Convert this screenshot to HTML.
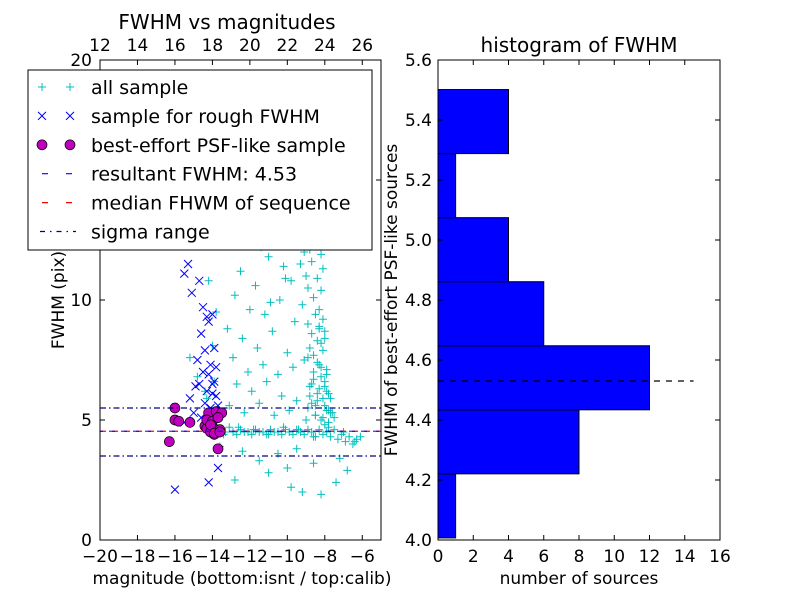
<!DOCTYPE html>
<html><head><meta charset="utf-8"><style>
body{margin:0;background:#fff;}
svg text{font-family:"DejaVu Sans","Liberation Sans",sans-serif;fill:#000;}
</style></head><body>
<svg id="fig" width="800" height="600" xmlns="http://www.w3.org/2000/svg">
<rect width="800" height="600" fill="#fff"/>
<g id="left"></g>
<g id="right"></g>
</svg>
<script>
// ---- data ----
const allSampleMag = [-13.5,-13.3,-13.1,-12.9,-12.7,-12.5,-12.3,-12.1,-11.9,-11.7,-11.5,-11.3,-11.1,-10.9,-10.7,-10.5,-10.3,-10.1,-9.9,-9.7,-9.5,-9.3,-9.1,-8.9,-8.7,-8.5,-8.3,-8.1,-7.9,-7.7,-7.5,-7.3,-7.1,-6.9,-6.7,-6.5,-6.3,-6.1,-13.4,-12.6,-11.8,-11.0,-10.2,-9.4,-8.6,-7.8,-7.0,-6.4,
-9.0,-8.9,-8.8,-8.7,-8.6,-8.5,-8.4,-8.3,-8.2,-8.1,-8.0,-7.9,-9.1,-8.8,-8.6,-8.4,-8.2,-8.0,-7.8,-8.9,-8.7,-8.5,-8.3,-8.1,-7.9,-7.7,-9.2,-8.9,-8.6,-8.3,-8.0,-7.6,-9.0,-8.7,-8.4,-8.1,-7.8,-8.8,-8.5,-8.2,-7.9,-9.3,-8.6,-8.3,-8.0,-8.8,-8.4,-8.1,-9.0,-8.6,-8.2,-8.7,-8.3,-9.1,-8.5,-8.0,-8.8,-8.4,
-13.0,-12.6,-12.2,-11.8,-11.4,-11.0,-10.6,-10.2,-9.8,-9.4,-12.8,-12.0,-11.2,-10.4,-9.6,-13.2,-12.4,-11.6,-10.8,-10.0,-12.9,-12.1,-11.3,-10.5,-9.7,-12.7,-11.9,-11.1,-10.3,-9.5,-13.1,-12.3,-11.5,-10.7,-9.9,-12.5,-11.7,-10.9,-10.1,-9.3,
-14.6,-14.2,-13.8,-14.4,-14.0,-15.2,-14.8,-14.3,-13.9,
-11.5,-10.5,-9.5,-12.8,-11.0,-9.8,-8.2,-7.4,-6.8,-12.4,-10.0,-8.6,-7.2,-13.6,-9.2,
-8.5,-8.2,-7.9,-8.7,-8.4,-8.1,-7.7,-8.6,-8.3,-8.0,-7.5,-8.9,-8.2,-7.8,-8.5,-8.0];
const allSampleFwhm = [4.6,4.5,4.7,4.5,4.4,4.6,4.5,4.5,4.4,4.6,4.5,4.5,4.4,4.6,4.5,4.5,4.4,4.6,4.5,4.4,4.6,4.5,4.4,4.6,4.5,4.3,4.6,4.4,4.5,4.3,4.6,4.2,4.4,4.1,4.3,4.0,4.2,4.3,4.4,4.7,4.6,4.4,4.7,4.6,4.3,4.7,4.5,4.1,
5.0,5.5,6.0,6.5,7.0,5.2,5.8,6.3,6.8,5.1,5.6,6.2,7.5,8.0,7.7,8.3,7.2,6.6,5.4,9.0,8.6,9.4,8.8,7.9,6.9,5.9,9.8,10.5,10.1,9.6,8.4,5.3,11.0,11.6,10.9,11.3,6.1,12.1,12.5,11.9,7.1,12.8,13.4,13.0,12.3,13.8,14.2,9.2,14.6,14.9,10.4,13.6,8.9,12.0,15.0,8.7,6.4,7.4,
14.0,13.2,12.6,13.7,12.2,11.8,12.9,11.4,10.8,13.5,10.2,9.6,9.4,10.0,9.1,8.8,8.4,8.0,8.7,7.8,7.6,7.0,7.3,6.9,7.2,6.5,6.2,6.6,6.0,5.8,5.6,5.3,5.7,5.2,5.4,11.2,10.6,9.9,10.9,11.5,
12.8,10.8,9.5,6.2,8.1,7.6,6.8,5.9,6.6,
3.3,3.6,3.8,2.5,2.8,2.2,1.9,2.4,2.9,3.7,3.0,3.2,3.4,3.9,2.0,
5.2,5.0,5.4,5.7,6.1,5.9,5.3,6.7,7.3,6.4,5.1,7.6,8.2,4.9,5.6,4.8];
const roughMag = [-16.0,-15.3,-15.5,-15.1,-14.7,-14.5,-14.3,-14.6,-14.2,-14.0,-13.9,-14.4,-14.8,-14.1,-13.8,-14.5,-14.2,-13.9,-15.2,-14.7,-14.3,-14.0,-13.8,-15.5,-14.9,-14.4,-14.1,-13.7,-14.2,-13.7,-15.0,-14.6,-14.3,-14.0];
const roughFwhm = [2.1,11.5,11.1,10.3,10.8,9.7,9.3,8.6,9.1,9.4,8.0,7.9,7.5,7.3,7.2,7.0,6.9,6.6,5.9,6.5,6.2,6.5,6.0,4.9,6.4,5.7,5.5,5.6,2.4,3.0,5.3,5.1,4.9,6.1];
const psfMag = [-16.3,-16.0,-16.0,-15.8,-15.2,-14.2,-14.0,-13.7,-14.4,-14.3,-14.0,-13.8,-14.1,-13.9,-13.6,-14.2,-13.8,-13.5,-14.3,-14.0,-13.7,-14.1,-13.9,-13.6,-13.7];
const psfFwhm = [4.1,5.5,5.0,4.95,4.9,4.7,4.6,4.5,4.75,4.65,4.55,4.6,4.5,4.4,4.6,5.3,5.35,5.3,5.0,4.95,5.1,4.8,4.45,4.5,3.8];
const resultFwhm = 4.53, medianFwhm = 4.53, sigmaLow = 3.5, sigmaHigh = 5.5;
const xTicks = [-20,-18,-16,-14,-12,-10,-8,-6];
const xTickLabels = ["\u221220","\u221218","\u221216","\u221214","\u221212","\u221210","\u22128","\u22126"];
const topTicks = [12,14,16,18,20,22,24,26];
const yTicks = [0,5,10,15,20];
const histCounts = [1,8,12,6,4,1,4];
const histEdges = [4.007,4.2205,4.434,4.6475,4.861,5.0745,5.288,5.5015];
const histYTicks = [4.0,4.2,4.4,4.6,4.8,5.0,5.2,5.4,5.6];
const histXTicks = [0,2,4,6,8,10,12,14,16];

const NS="http://www.w3.org/2000/svg";
function mk(parent,tag,attrs,text){const e=document.createElementNS(NS,tag);for(const k in attrs)e.setAttribute(k,attrs[k]);if(text!==undefined)e.textContent=text;parent.appendChild(e);return e;}

// ---- left panel ----
const L=document.getElementById('left');
const lx0=100,lx1=381,ly0=540,ly1=60;
const sx=v=>lx0+(v+20)/15*(lx1-lx0);
const sy=v=>ly0-v/20*(ly0-ly1);
const sxTop=v=>sx(v-32);
for(let i=0;i<allSampleMag.length;i++){
  const x=sx(allSampleMag[i]),y=sy(allSampleFwhm[i]);
  const p=mk(L,'path',{d:`M${x-4},${y}H${x+4}M${x},${y-4}V${y+4}`,stroke:'#00bfbf','stroke-width':1});
  
  
}
for(let i=0;i<roughMag.length;i++){
  const x=sx(roughMag[i]),y=sy(roughFwhm[i]);
  const p=mk(L,'path',{d:`M${x-4},${y-4}L${x+4},${y+4}M${x-4},${y+4}L${x+4},${y-4}`,stroke:'#0000ff','stroke-width':1});
  
  
}
for(let i=0;i<psfMag.length;i++){
  const c=mk(L,'circle',{cx:sx(psfMag[i]),cy:sy(psfFwhm[i]),r:5,fill:'#bf00bf',stroke:'#000','stroke-width':0.7});
  
  
}
let ln;
ln=mk(L,'line',{x1:lx0,x2:lx1,y1:sy(medianFwhm),y2:sy(medianFwhm),stroke:'#ff0000','stroke-width':1.2,'stroke-dasharray':'6,6'});

ln=mk(L,'line',{x1:lx0,x2:lx1,y1:sy(resultFwhm),y2:sy(resultFwhm),stroke:'#0000ff','stroke-width':1.2,'stroke-dasharray':'6,6','stroke-dashoffset':3,opacity:0.8});

for(const v of [sigmaLow,sigmaHigh]){
  ln=mk(L,'line',{x1:lx0,x2:lx1,y1:sy(v),y2:sy(v),stroke:'#00008b','stroke-width':1.2,'stroke-dasharray':'6,3,1.5,3'});
  
}
mk(L,'rect',{x:lx0,y:ly1,width:lx1-lx0,height:ly0-ly1,fill:'none',stroke:'#000','stroke-width':1});
xTicks.forEach((v,i)=>{const x=sx(v);mk(L,'line',{x1:x,x2:x,y1:ly0,y2:ly0-5,stroke:'#000'});
  const t=mk(L,'text',{x:x,y:ly0+22,'text-anchor':'middle','font-size':17},xTickLabels[i]);
  });
topTicks.forEach(v=>{const x=sxTop(v);mk(L,'line',{x1:x,x2:x,y1:ly1,y2:ly1+5,stroke:'#000'});
  const t=mk(L,'text',{x:x,y:ly1-9,'text-anchor':'middle','font-size':17},String(v));
  });
yTicks.forEach(v=>{const y=sy(v);mk(L,'line',{x1:lx0,x2:lx0+5,y1:y,y2:y,stroke:'#000'});mk(L,'line',{x1:lx1,x2:lx1-5,y1:y,y2:y,stroke:'#000'});
  const t=mk(L,'text',{x:lx0-8,y:y+6,'text-anchor':'end','font-size':17},String(v));
  });
let t=mk(L,'text',{x:242,y:584,'text-anchor':'middle','font-size':17},'magnitude (bottom:isnt / top:calib)');

t=mk(L,'text',{x:0,y:0,'text-anchor':'middle','font-size':17,transform:'translate(64,300) rotate(-90)'},'FWHM (pix)');

t=mk(L,'text',{x:227,y:29,'text-anchor':'middle','font-size':20},'FWHM vs magnitudes');


// legend
const lg=mk(L,'g',{});

mk(lg,'rect',{x:28,y:70,width:344,height:180,fill:'#fff',stroke:'#000','stroke-width':1});
const labels=['all sample','sample for rough FWHM','best-effort PSF-like sample','resultant FWHM: 4.53','median FHWM of sequence','sigma range'];
labels.forEach((lab,i)=>{
  const y=87+i*28.9;
  const e=mk(lg,'g',{});
  
  if(i===0){for(const x of [42,70])mk(e,'path',{d:`M${x-4},${y}H${x+4}M${x},${y-4}V${y+4}`,stroke:'#00bfbf'});}
  if(i===1){for(const x of [42,70])mk(e,'path',{d:`M${x-4},${y-4}L${x+4},${y+4}M${x-4},${y+4}L${x+4},${y-4}`,stroke:'#0000ff'});}
  if(i===2){for(const x of [42,70])mk(e,'circle',{cx:x,cy:y,r:5,fill:'#bf00bf',stroke:'#000','stroke-width':0.7});}
  if(i===3)mk(e,'line',{x1:42,x2:76,y1:y,y2:y,stroke:'#0000ff','stroke-width':1.2,'stroke-dasharray':'6,18'});
  if(i===4)mk(e,'line',{x1:42,x2:76,y1:y,y2:y,stroke:'#ff0000','stroke-width':1.2,'stroke-dasharray':'6,18'});
  if(i===5)mk(e,'line',{x1:40,x2:76,y1:y,y2:y,stroke:'#00008b','stroke-width':1.2,'stroke-dasharray':'5,5,1.5,5'});
  mk(e,'text',{x:91,y:y+7,'font-size':19},lab);
});

// ---- right panel ----
const R=document.getElementById('right');
const rx0=438,rx1=720,ry0=540,ry1=60;
const hx=v=>rx0+v/16*(rx1-rx0);
const hy=v=>ry0-(v-4)/1.6*(ry0-ry1);
histCounts.forEach((c,i)=>{
  const b=mk(R,'rect',{x:hx(0),y:hy(histEdges[i+1]),width:hx(c)-hx(0),height:hy(histEdges[i])-hy(histEdges[i+1]),fill:'#0000ff',stroke:'#000','stroke-width':1});
  
});
ln=mk(R,'line',{x1:hx(0),x2:hx(14.5),y1:hy(resultFwhm),y2:hy(resultFwhm),stroke:'#000','stroke-width':1.2,'stroke-dasharray':'6,6'});

mk(R,'rect',{x:rx0,y:ry1,width:rx1-rx0,height:ry0-ry1,fill:'none',stroke:'#000','stroke-width':1});
histXTicks.forEach(v=>{const x=hx(v);mk(R,'line',{x1:x,x2:x,y1:ry0,y2:ry0-5,stroke:'#000'});mk(R,'line',{x1:x,x2:x,y1:ry1,y2:ry1+5,stroke:'#000'});
  const t=mk(R,'text',{x:x,y:ry0+22,'text-anchor':'middle','font-size':17},String(v));
  });
histYTicks.forEach(v=>{const y=hy(v);mk(R,'line',{x1:rx0,x2:rx0+5,y1:y,y2:y,stroke:'#000'});mk(R,'line',{x1:rx1,x2:rx1-5,y1:y,y2:y,stroke:'#000'});
  const t=mk(R,'text',{x:rx0-6,y:y+6,'text-anchor':'end','font-size':17},v.toFixed(1));
  });
t=mk(R,'text',{x:579,y:584,'text-anchor':'middle','font-size':17},'number of sources');

t=mk(R,'text',{x:0,y:0,'text-anchor':'middle','font-size':17,transform:'translate(397,300) rotate(-90)'},'FWHM of best-effort PSF-like sources');

t=mk(R,'text',{x:579,y:52,'text-anchor':'middle','font-size':20},'histogram of FWHM');

</script>
</body></html>
